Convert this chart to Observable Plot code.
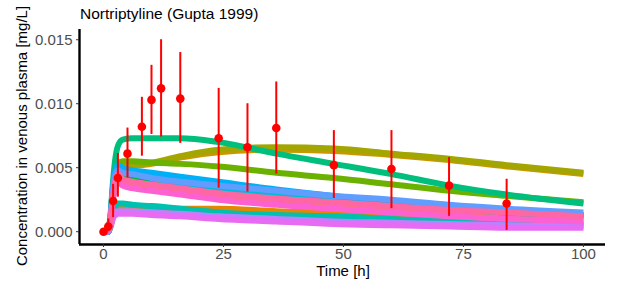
<!DOCTYPE html>
<html>
<head>
<meta charset="utf-8">
<script src="https://cdn.jsdelivr.net/npm/d3@7"></script>
<script src="https://cdn.jsdelivr.net/npm/@observablehq/plot@0.6"></script>
<style>
  html, body { margin: 0; padding: 0; background: #fff; }
  #chart { width: 618px; height: 290px; }
</style>
</head>
<body>
<div id="chart"></div>
<script>
// ---- data ----
const title = "Nortriptyline (Gupta 1999)";
const xLabel = "Time [h]";
const yLabel = "Concentration in venous plasma [mg/L]";
const xTicks = [0, 25, 50, 75, 100];
const yTicks = [0, 0.005, 0.010, 0.015];

// simulated time grid (h)
const simTime = [0, 0.5, 1, 1.5, 2, 2.5, 3, 4, 6, 10, 16, 24, 36, 48, 60, 72, 84, 100];

// simulated individual curves (mg/L), ggplot hue palette order
const simSeries = ["s01","s02","s03","s04","s05","s06","s07","s08","s09","s10","s11","s12","s13","s14","s15"];
const simColors = ["#F8766D","#E58700","#C99800","#A3A500","#6BB100","#00BA38","#00BF7D","#00C0AF","#00BCD8","#00B0F6","#619CFF","#B983FF","#E76BF3","#FD61D1","#FF67A4"];
const s01 = [0, 0, 0.0002, 0.0012, 0.0027, 0.0038, 0.0043, 0.0040, 0.0038, 0.0036, 0.0033, 0.0029, 0.0025, 0.0022, 0.0019, 0.0016, 0.0014, 0.0011];
const s02 = [0, 0, 0, 0.0004, 0.0011, 0.0016, 0.0018, 0.0018, 0.0018, 0.0018, 0.0018, 0.0018, 0.0016, 0.0015, 0.0013, 0.0011, 0.0009, 0.0007];
const s03 = [0, 0, 0, 0.0010, 0.0030, 0.0042, 0.0047, 0.0050, 0.0051, 0.0053, 0.0058, 0.0062, 0.0064, 0.0063, 0.0060, 0.0056, 0.0051, 0.0045];
const s04 = [0, 0, 0, 0.0010, 0.0030, 0.0043, 0.0049, 0.0052, 0.0052, 0.0054, 0.0059, 0.0064, 0.0066, 0.0065, 0.0061, 0.0057, 0.0052, 0.0046];
const s05 = [0, 0, 0, 0.0012, 0.0035, 0.0048, 0.0053, 0.0055, 0.0055, 0.0054, 0.0053, 0.0051, 0.0046, 0.0042, 0.0037, 0.0032, 0.0028, 0.0023];
const s06 = [0, 0, 0, 0.0010, 0.0030, 0.0040, 0.0044, 0.0044, 0.0043, 0.0041, 0.0038, 0.0035, 0.0030, 0.0025, 0.0021, 0.0018, 0.0015, 0.0013];
const s07 = [0, 0, 0, 0.0015, 0.0040, 0.0058, 0.0067, 0.0072, 0.0073, 0.0073, 0.0073, 0.0070, 0.0061, 0.0053, 0.0045, 0.0036, 0.0029, 0.0022];
const s08 = [0, 0, 0, 0.0005, 0.0014, 0.0020, 0.0022, 0.0022, 0.0021, 0.0020, 0.0018, 0.0015, 0.0013, 0.0012, 0.0010, 0.0008, 0.0007, 0.0005];
const s09 = [0, 0, 0, 0.0012, 0.0032, 0.0044, 0.0048, 0.0047, 0.0045, 0.0042, 0.0038, 0.0034, 0.0029, 0.0025, 0.0021, 0.0018, 0.0015, 0.0012];
const s10 = [0, 0, 0, 0.0013, 0.0036, 0.0048, 0.0052, 0.0050, 0.0048, 0.0046, 0.0043, 0.0039, 0.0033, 0.0028, 0.0024, 0.0020, 0.0017, 0.0013];
const s11 = [0, 0, 0, 0.0012, 0.0034, 0.0045, 0.0048, 0.0046, 0.0045, 0.0042, 0.0039, 0.0036, 0.0032, 0.0028, 0.0025, 0.0021, 0.0018, 0.0015];
const s12 = [0, 0, 0.0001, 0.0006, 0.0012, 0.0015, 0.0016, 0.0016, 0.0016, 0.0015, 0.0014, 0.0012, 0.0010, 0.0008, 0.0007, 0.0006, 0.0005, 0.0004];
const s13 = [0, 0, 0.0001, 0.0005, 0.0011, 0.0013, 0.0014, 0.0014, 0.0014, 0.0013, 0.0012, 0.0010, 0.0008, 0.0006, 0.0005, 0.0004, 0.0003, 0.0003];
const s14 = [0, 0, 0.0002, 0.0011, 0.0026, 0.0035, 0.0039, 0.0036, 0.0034, 0.0032, 0.0029, 0.0025, 0.0021, 0.0018, 0.0015, 0.0012, 0.0010, 0.0008];
const s15 = [0, 0, 0.0002, 0.0012, 0.0028, 0.0040, 0.0045, 0.0041, 0.0039, 0.0037, 0.0034, 0.0030, 0.0026, 0.0023, 0.0020, 0.0017, 0.0015, 0.0012];
const simValues = [s01,s02,s03,s04,s05,s06,s07,s08,s09,s10,s11,s12,s13,s14,s15];

// observed data (mean with error range)
const obsTime  = [0, 1, 2, 3, 5, 8, 10, 12, 16, 24, 30, 36, 48, 60, 72, 84];
const obsMean  = [0.0000, 0.0004, 0.0024, 0.0042, 0.0061, 0.0082, 0.0103, 0.0112, 0.0104, 0.0073, 0.0066, 0.0081, 0.0052, 0.0049, 0.0036, 0.0022];
const obsLow   = [0.0000, 0.0000, 0.0011, 0.0027, 0.0042, 0.0059, 0.0076, 0.0074, 0.0069, 0.0034, 0.0031, 0.0045, 0.0026, 0.0018, 0.0012, 0.0001];
const obsHigh  = [0.0000, 0.0010, 0.0037, 0.0061, 0.0081, 0.0105, 0.0130, 0.0150, 0.0140, 0.0112, 0.0100, 0.0117, 0.0079, 0.0079, 0.0058, 0.0041];

// ---- build tables ----
const simRows = [];
simSeries.forEach((id, i) => {
  simTime.forEach((t, j) => simRows.push({id, t, v: simValues[i][j]}));
});
const obsRows = obsTime.map((t, i) => ({t, v: obsMean[i], lo: obsLow[i], hi: obsHigh[i]}));

const xDomain = [-5, 104.6];
const yDomain = [-0.001, 0.0158];

const chart = Plot.plot({
  width: 618,
  height: 290,
  marginLeft: 79,
  marginRight: 13,
  marginTop: 29,
  marginBottom: 46,
  style: {fontFamily: "'Liberation Sans', Arial, sans-serif", fontSize: "15px", background: "#fff"},
  x: {domain: xDomain},
  y: {domain: yDomain},
  color: {domain: simSeries, range: simColors},
  marks: [
    Plot.line(simRows, {x: "t", y: "v", z: "id", stroke: "id", strokeWidth: 6, curve: "monotone-x", strokeLinecap: "butt", strokeLinejoin: "round"}),
    Plot.ruleX(obsRows, {x: "t", y1: "lo", y2: "hi", stroke: "#FF0000", strokeWidth: 2}),
    Plot.dot(obsRows, {x: "t", y: "v", r: 4.3, fill: "#FF0000", stroke: "none"}),
    Plot.ruleY([yDomain[0]], {stroke: "#000", strokeWidth: 2.4}),
    Plot.ruleX([xDomain[0]], {stroke: "#000", strokeWidth: 2.4}),
    Plot.axisX({ticks: xTicks, tickSize: 3, tickPadding: 1, stroke: "#333", fill: "#4D4D4D", label: null}),
    Plot.axisY({ticks: yTicks, tickSize: 3, tickPadding: 4, tickFormat: d3.format(".3f"), stroke: "#333", fill: "#4D4D4D", label: null})
  ]
});

const svg = d3.select(chart);
// enlarge tick labels
svg.selectAll('g[aria-label$="tick label"]').attr("font-size", 15).style("font-size", "15px");
svg.selectAll('g[aria-label$="tick label"] text').style("font-size", "15px");

svg.append("text").attr("x", 80).attr("y", 18.5).attr("text-anchor", "start")
  .style("font-size", "15.5px").attr("fill", "#000").text(title);
svg.append("text").attr("x", 343).attr("y", 276).attr("text-anchor", "middle")
  .style("font-size", "15px").attr("fill", "#000").text(xLabel);
svg.append("text").attr("transform", "translate(27,136) rotate(-90)").attr("text-anchor", "middle")
  .style("font-size", "15px").attr("fill", "#000").text(yLabel);

document.getElementById("chart").appendChild(chart);
</script>
</body>
</html>
